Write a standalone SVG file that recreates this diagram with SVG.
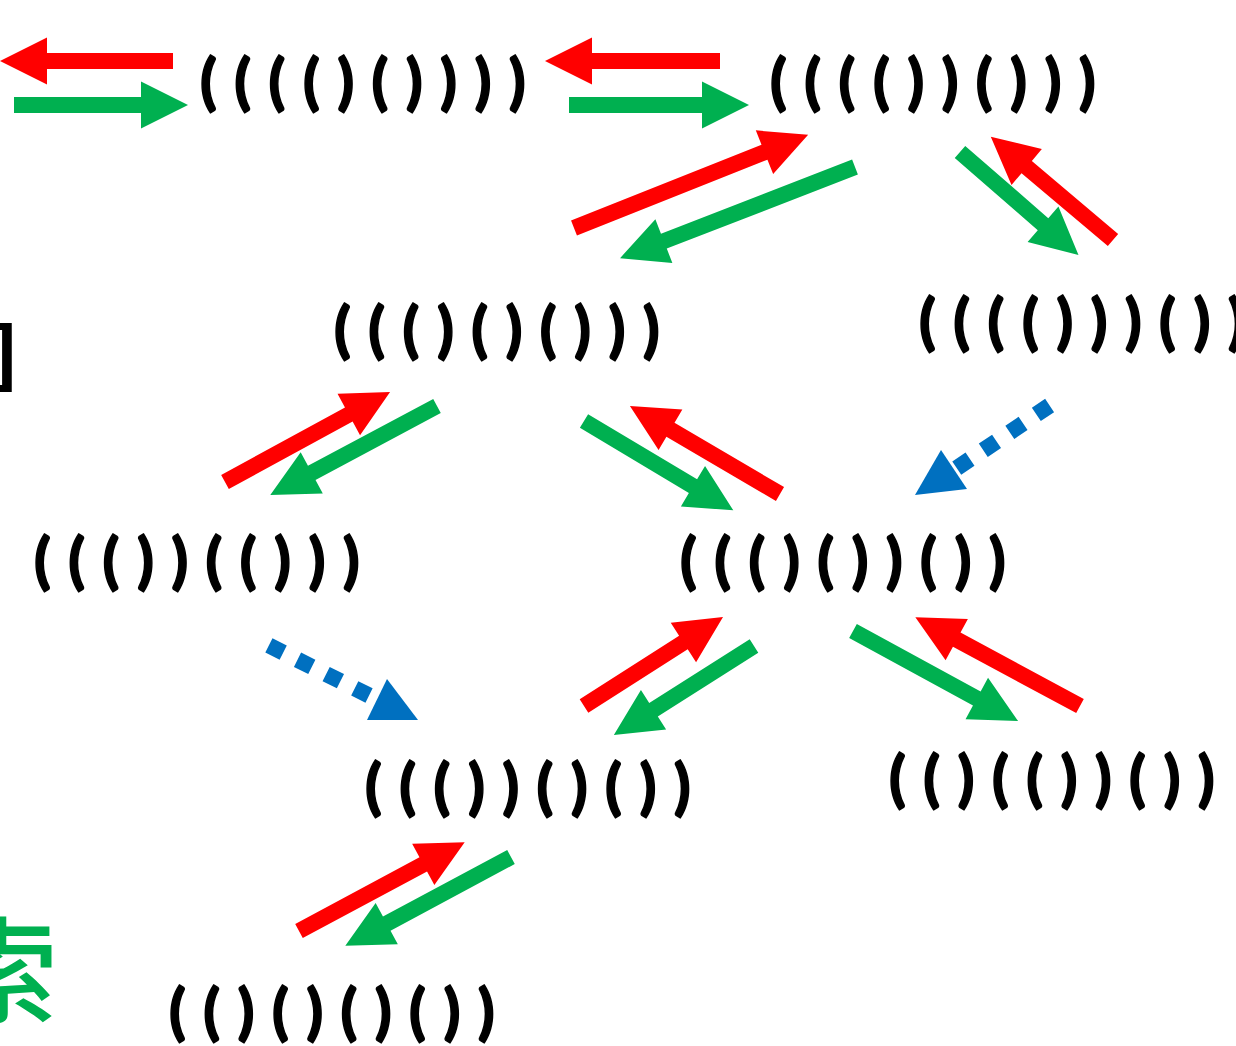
<svg xmlns="http://www.w3.org/2000/svg" width="1236" height="1046" viewBox="0 0 1236 1046">
<style>
.p{font-family:Lato,"Liberation Sans",sans-serif;font-weight:900;font-size:61px;fill:#000;stroke:#000;stroke-width:1.4px;stroke-linejoin:round}
.r{fill:#ff0000}
.g{fill:#00b050}
.bl{fill:#0070c0}
.dash{stroke:#0070c0;stroke-width:16;stroke-dasharray:16 16;fill:none}
</style>
<rect width="1236" height="1046" fill="#ffffff"/>
<g id="side-labels">
<text x="-9" y="377" font-family="Liberation Sans, Arial, sans-serif" font-weight="bold" font-size="75" fill="#000">]</text>
<text x="-57" y="1014" font-family="Noto Sans CJK SC, sans-serif" font-weight="500" font-size="115" fill="#00b050">索</text>
</g>
<g id="nodes">
<g id="n1"><text class="p" x="200 234.3 268.6 302.9 337.2 371.5 405.8 440.1 474.4 508.7" y="102.5">(((()())))</text></g>
<g id="n2"><text class="p" x="770 804.3 838.6 872.9 907.2 941.5 975.8 1010.1 1044.4 1078.7" y="102.5">(((())()))</text></g>
<g id="n3"><text class="p" x="919 953.3 987.6 1021.9 1056.2 1090.5 1124.8 1159.1 1193.4 1227.7" y="342.5">(((()))())</text></g>
<g id="n4"><text class="p" x="334 368.3 402.6 436.9 471.2 505.5 539.8 574.1 608.4 642.7" y="350.5">((()()()))</text></g>
<g id="n5"><text class="p" x="34 68.3 102.6 136.9 171.2 205.5 239.8 274.1 308.4 342.7" y="581.5">((())(()))</text></g>
<g id="n6"><text class="p" x="680 714.3 748.6 782.9 817.2 851.5 885.8 920.1 954.4 988.7" y="581.5">((()())())</text></g>
<g id="n7"><text class="p" x="365 399.3 433.6 467.9 502.2 536.5 570.8 605.1 639.4 673.7" y="807.5">((())()())</text></g>
<g id="n8"><text class="p" x="889 923.3 957.6 991.9 1026.2 1060.5 1094.8 1129.1 1163.4 1197.7" y="799.5">(()(())())</text></g>
<g id="n9"><text class="p" x="169 203.3 237.6 271.9 306.2 340.5 374.8 409.1 443.4 477.7" y="1032.5">(()()()())</text></g>
</g>
<g id="connectors">
<path class="r" transform="translate(173,61) rotate(180)" d="M0,-8 H126 V-23.5 L173,0 L126,23.5 V8 H0 Z"/>
<path class="g" transform="translate(14,105)" d="M0,-8 H127 V-23.5 L174,0 L127,23.5 V8 H0 Z"/>
<path class="r" transform="translate(720,61) rotate(180)" d="M0,-8 H128 V-23.5 L175,0 L128,23.5 V8 H0 Z"/>
<path class="g" transform="translate(569,105)" d="M0,-8 H133 V-23.5 L180,0 L133,23.5 V8 H0 Z"/>

<path class="r" transform="translate(574,228) rotate(-21.7)" d="M0,-8 H205 V-23.5 L252,0 L205,23.5 V8 H0 Z"/>
<path class="g" transform="translate(855,167) rotate(158.8)" d="M0,-8 H205 V-23.5 L252,0 L205,23.5 V8 H0 Z"/>

<path class="g" transform="translate(960,152) rotate(41)" d="M0,-8 H110 V-23.5 L157,0 L110,23.5 V8 H0 Z"/>
<path class="r" transform="translate(1113,240) rotate(220.2)" d="M0,-8 H113 V-23.5 L160,0 L113,23.5 V8 H0 Z"/>

<path class="r" transform="translate(225,482) rotate(-28.6)" d="M0,-8 H141 V-23.5 L188,0 L141,23.5 V8 H0 Z"/>
<path class="g" transform="translate(437,406) rotate(151.9)" d="M0,-8 H142 V-23.5 L189,0 L142,23.5 V8 H0 Z"/>

<path class="g" transform="translate(584,421) rotate(30.9)" d="M0,-8 H127 V-23.5 L174,0 L127,23.5 V8 H0 Z"/>
<path class="r" transform="translate(780,494) rotate(210.4)" d="M0,-8 H127 V-23.5 L174,0 L127,23.5 V8 H0 Z"/>

<path class="r" transform="translate(584,706) rotate(-32.6)" d="M0,-8 H118 V-23.5 L165,0 L118,23.5 V8 H0 Z"/>
<path class="g" transform="translate(754,646) rotate(147.6)" d="M0,-8 H119 V-23.5 L166,0 L119,23.5 V8 H0 Z"/>

<path class="r" transform="translate(1080,706) rotate(208.3)" d="M0,-8 H140 V-23.5 L187,0 L140,23.5 V8 H0 Z"/>
<path class="g" transform="translate(853,631) rotate(28.6)" d="M0,-8 H141 V-23.5 L188,0 L141,23.5 V8 H0 Z"/>

<path class="r" transform="translate(299,931) rotate(-28.2)" d="M0,-8 H141 V-23.5 L188,0 L141,23.5 V8 H0 Z"/>
<path class="g" transform="translate(511,857) rotate(151.8)" d="M0,-8 H141 V-23.5 L188,0 L141,23.5 V8 H0 Z"/>

<line class="dash" x1="1049.6" y1="405.5" x2="954" y2="470"/>
<polygon class="bl" points="915,495 941,450 967,489"/>
<line class="dash" x1="268.9" y1="645.4" x2="377" y2="699.5"/>
<polygon class="bl" points="418,720 367,720 387,679"/>
</g>
</svg>
